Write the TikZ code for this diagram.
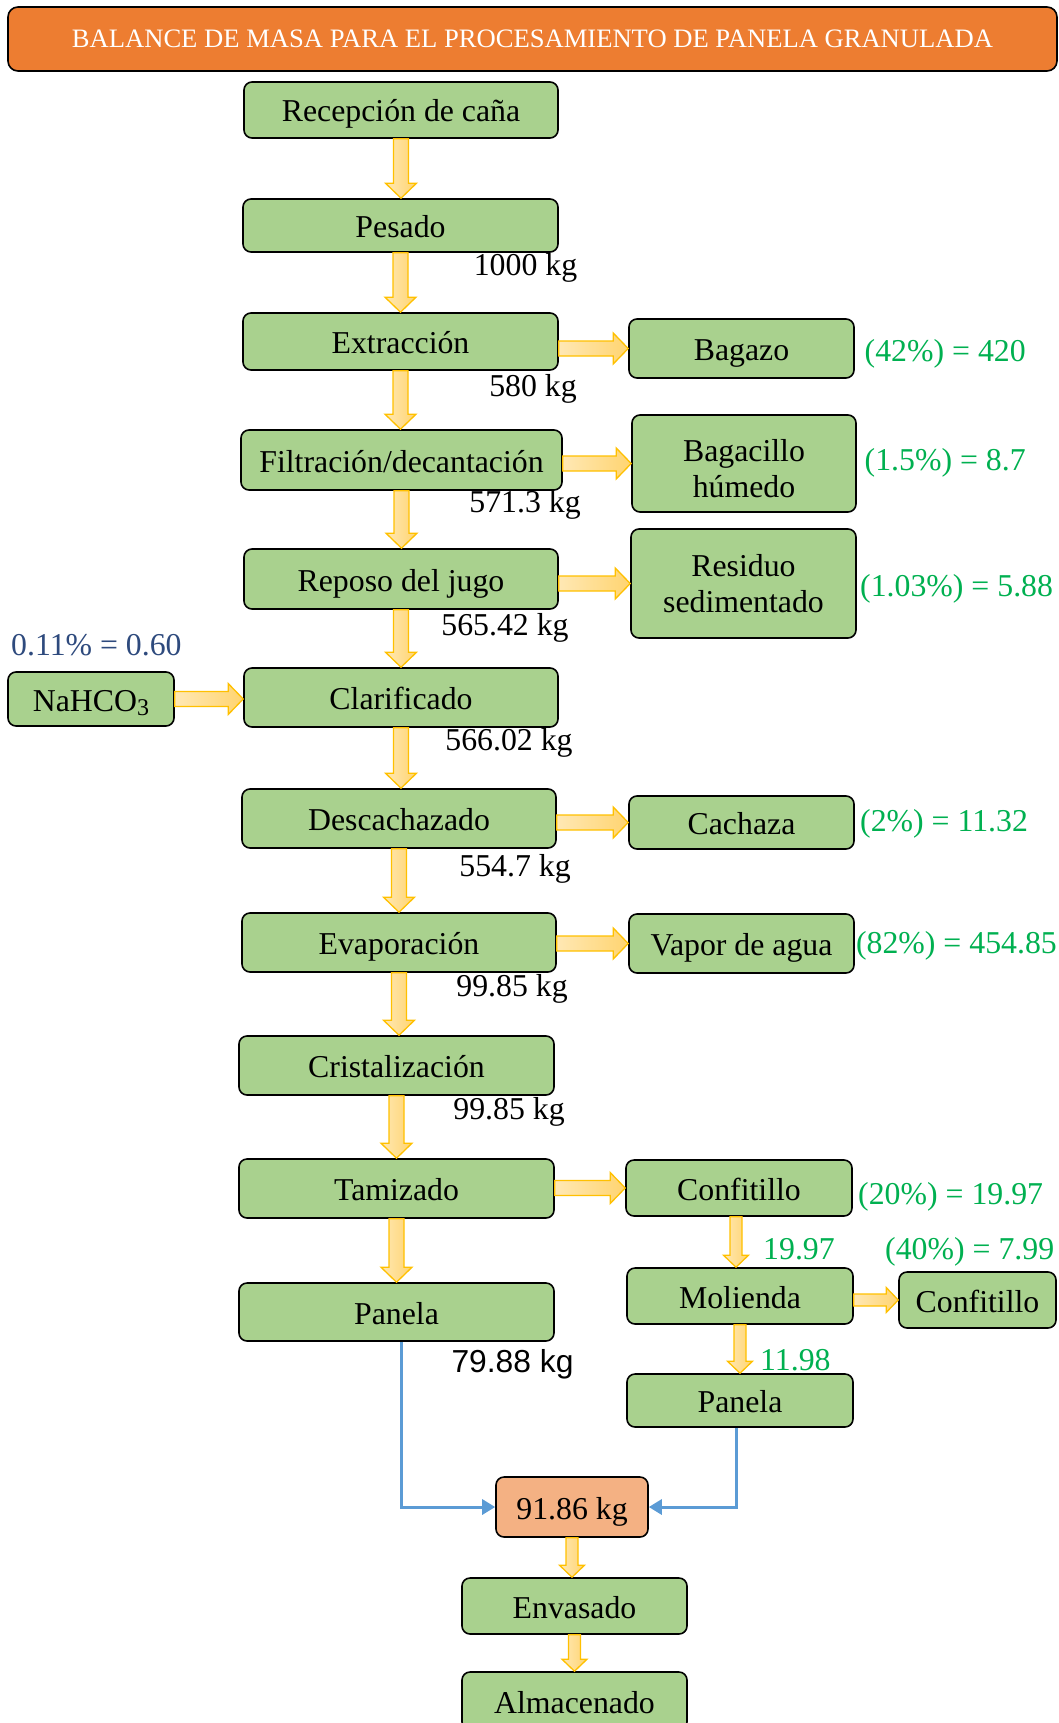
\documentclass[tikz,border=0pt]{standalone}
\usepackage{fontspec}
\setmainfont{Liberation Serif}
\newfontfamily\arialfont{Liberation Sans}
\usetikzlibrary{calc,arrows.meta}

\definecolor{boxgreen}{HTML}{A9D18E}
\definecolor{titleorange}{HTML}{ED7D31}
\definecolor{totalorange}{HTML}{F4B183}
\definecolor{pctgreen}{HTML}{00B050}
\definecolor{inkblue}{HTML}{2E4A7D}
\definecolor{linkblue}{HTML}{5B9BD5}
\definecolor{arrowedge}{HTML}{FFC000}
\definecolor{arrowlight}{HTML}{FFE8B4}
\definecolor{arrowdark}{HTML}{FFD470}

\tikzset{
  x=1pt, y=1pt,
  txt/.style={font=\fontsize{31.8}{36}\selectfont},
  gbox/.style={txt, draw=black, line width=1.6pt, fill=boxgreen,
    rounded corners=8pt, inner sep=0pt, align=center},
  sbox/.style={gbox, text height=24pt, text depth=0pt},
  lbl/.style={txt, inner sep=0pt},
  pct/.style={lbl, text=pctgreen},
  blkbig/.style={/utils/exec={\def\sw{7.5}\def\hw{15.5}\def\hl{15}}},
  blksmall/.style={/utils/exec={\def\sw{6}\def\hw{12.5}\def\hl{12}}},
  blk/.style={draw=arrowedge, line width=1.3pt, line join=miter,
    left color=arrowlight, right color=arrowdark,
    to path={
      let \p1=(\tikztostart), \p2=(\tikztotarget),
          \n1={atan2(\y2-\y1,\x2-\x1)},
          \n2={veclen(\x2-\x1,\y2-\y1)-\hl} in
      ($(\p1)+(\n1+90:\sw)$)
      -- ($(\p1)+(\n1:\n2)+(\n1+90:\sw)$)
      -- ($(\p1)+(\n1:\n2)+(\n1+90:\hw)$)
      -- (\p2)
      -- ($(\p1)+(\n1:\n2)+(\n1-90:\hw)$)
      -- ($(\p1)+(\n1:\n2)+(\n1-90:\sw)$)
      -- ($(\p1)+(\n1-90:\sw)$) -- cycle
    }},
  link/.style={draw=linkblue, line width=3pt,
    -{Triangle[length=13pt,width=15pt]}},
}

\begin{document}
\begin{tikzpicture}
\useasboundingbox (0,0) rectangle (1059,-1723);
\clip (0,0) rectangle (1059,-1723);

% title banner
\node[draw=black, line width=1.6pt, fill=titleorange, rounded corners=10pt,
  minimum width=1049pt, minimum height=64pt, inner sep=0pt, text=white,
  font=\fontsize{26.6}{30}\selectfont] (title) at (532.5,-39)
  {BALANCE DE MASA PARA EL PROCESAMIENTO DE PANELA GRANULADA};

% mass labels (set beneath the boxes)
\node[lbl, anchor=base] (m1) at (525.5,-275) {1000 kg};
\node[lbl, anchor=base] (m2) at (533,-396) {580 kg};
\node[lbl, anchor=base] (m3) at (525,-512.5) {571.3 kg};
\node[lbl, anchor=base] (m4) at (505,-635) {565.42 kg};
\node[lbl, anchor=base] (m5) at (509,-750) {566.02 kg};
\node[lbl, anchor=base] (m6) at (515,-876) {554.7 kg};
\node[lbl, anchor=base] (m7) at (512,-996) {99.85 kg};
\node[lbl, anchor=base] (m8) at (509,-1119) {99.85 kg};
\node[lbl, anchor=base, font=\arialfont\fontsize{31.8}{36}\selectfont] (m9) at (512.5,-1372) {79.88 kg};

% percentages of the side streams
\node[pct, anchor=base west] (p1) at (864.5,-361) {(42\%) = 420};
\node[pct, anchor=base west] (p2) at (864.5,-470) {(1.5\%) = 8.7};
\node[pct, anchor=base west] (p3) at (860,-596) {(1.03\%) = 5.88};
\node[pct, anchor=base west] (p4) at (860,-831.5) {(2\%) = 11.32};
\node[pct, anchor=base east] (p5) at (1057,-953) {(82\%) = 454.85};
\node[pct, anchor=base west] (p6) at (858,-1204) {(20\%) = 19.97};
\node[pct, anchor=base west] (p7) at (763,-1259) {19.97};
\node[pct, anchor=base west] (p8) at (885,-1259) {(40\%) = 7.99};
\node[pct, anchor=base west] (p9) at (760,-1370) {11.98};
\node[lbl, anchor=base west, text=inkblue] (p0) at (11,-655) {0.11\% = 0.60};

% process boxes
\node[sbox, minimum width=314pt, minimum height=56pt] (rec) at (401,-110) {Recepción de caña};
\node[sbox, minimum width=315pt, minimum height=53pt] (pes) at (400.5,-225.5) {Pesado};
\node[sbox, minimum width=315pt, minimum height=57pt] (ext) at (400.5,-341.5) {Extracción};
\node[sbox, minimum width=321pt, minimum height=60pt] (fil) at (401.5,-460) {Filtración/decantación};
\node[sbox, minimum width=225pt, minimum height=59pt] (bag) at (741.5,-348.5) {Bagazo};
\node[gbox, minimum width=224pt, minimum height=97pt] (bgh) at (744,-463.5)
  {\begin{tabular}{@{}c@{}}\rule{0pt}{43pt}Bagacillo\\húmedo\end{tabular}};
\node[sbox, minimum width=314pt, minimum height=60pt] (rep) at (401,-579) {Reposo del jugo};
\node[gbox, minimum width=225pt, minimum height=109pt] (res) at (743.5,-583.5) {Residuo\\sedimentado};
\node[sbox, minimum width=166pt, minimum height=54pt] (nah) at (91,-699)
  {NaHCO\raisebox{-4pt}{\fontsize{24}{24}\selectfont 3}};
\node[sbox, minimum width=314pt, minimum height=59pt] (cla) at (401,-697.5) {Clarificado};
\node[sbox, minimum width=314pt, minimum height=59pt] (des) at (399,-818.5) {Descachazado};
\node[sbox, minimum width=225pt, minimum height=53pt] (cac) at (741.5,-822.5) {Cachaza};
\node[sbox, minimum width=314pt, minimum height=59pt] (eva) at (399,-942.5) {Evaporación};
\node[sbox, minimum width=225pt, minimum height=59pt] (vap) at (741.5,-943.5) {Vapor de agua};
\node[sbox, minimum width=315pt, minimum height=59pt] (cri) at (396.5,-1065.5) {Cristalización};
\node[sbox, minimum width=315pt, minimum height=59pt] (tam) at (396.5,-1188.5) {Tamizado};
\node[sbox, minimum width=226pt, minimum height=56pt] (con) at (739,-1188) {Confitillo};
\node[sbox, minimum width=226pt, minimum height=56pt] (mol) at (740,-1296) {Molienda};
\node[sbox, minimum width=157pt, minimum height=56pt] (cof) at (977.5,-1300) {Confitillo};
\node[sbox, minimum width=226pt, minimum height=53pt] (pnr) at (740,-1400.5) {Panela};
\node[sbox, minimum width=315pt, minimum height=58pt] (pnl) at (396.5,-1312) {Panela};
\node[sbox, fill=totalorange, minimum width=152pt, minimum height=60pt] (tot) at (572,-1507) {91.86 kg};
\node[sbox, minimum width=225pt, minimum height=56pt] (env) at (574.5,-1606) {Envasado};
\node[sbox, minimum width=225pt, minimum height=58pt] (alm) at (574.5,-1701) {Almacenado};

% main line block arrows
\draw[blk, blkbig] (rec.south) to (rec.south |- pes.north);
\draw[blk, blkbig] (pes.south) to (pes.south |- ext.north);
\draw[blk, blkbig] (ext.south) to (ext.south |- fil.north);
\draw[blk, blkbig] (fil.south) to (fil.south |- rep.north);
\draw[blk, blkbig] (rep.south) to (rep.south |- cla.north);
\draw[blk, blkbig] (cla.south) to (cla.south |- des.north);
\draw[blk, blkbig] (des.south) to (des.south |- eva.north);
\draw[blk, blkbig] (eva.south) to (eva.south |- cri.north);
\draw[blk, blkbig] (cri.south) to (cri.south |- tam.north);
\draw[blk, blkbig] (tam.south) to (tam.south |- pnl.north);

% side streams
\draw[blk, blkbig] (ext.east |- bag.west) to (bag.west);
\draw[blk, blkbig] (fil.east |- bgh.west) to (bgh.west);
\draw[blk, blkbig] (rep.east |- res.west) to (res.west);
\draw[blk, blkbig] (nah.east) to (nah.east -| cla.west);
\draw[blk, blkbig] (des.east |- cac.west) to (cac.west);
\draw[blk, blkbig] (eva.east |- vap.west) to (vap.west);
\draw[blk, blkbig] (tam.east |- con.west) to (con.west);

% milling branch
\draw[blk, blksmall] ([xshift=-3pt]con.south) to ([xshift=-3pt]con.south |- mol.north);
\draw[blk, blksmall] (mol.south) to (mol.south |- pnr.north);
\draw[blk, blksmall] (mol.east |- cof.west) to (cof.west);

% collection of both panela streams
\draw[link] ([xshift=4.5pt]pnl.south) |- (tot.west);
\draw[link] ([xshift=-4pt]pnr.south) |- (tot.east);

% packing
\draw[blk, blksmall] (tot.south) to (tot.south |- env.north);
\draw[blk, blksmall] (env.south) to (env.south |- alm.north);
\end{tikzpicture}
\end{document}
